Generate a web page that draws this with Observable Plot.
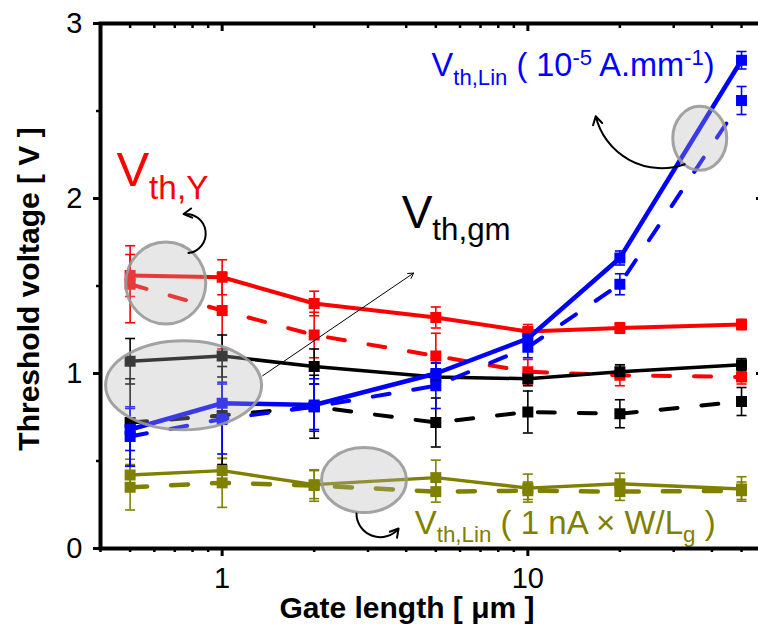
<!DOCTYPE html>
<html><head><meta charset="utf-8">
<script src="https://cdn.jsdelivr.net/npm/d3@7"></script>
<script src="https://cdn.jsdelivr.net/npm/@observablehq/plot@0.6"></script>
<style>html,body{margin:0;padding:0;overflow:hidden;background:#fff}#chart svg{max-width:none!important;}</style>
</head><body><div id="chart"></div>
<script>
// ---- data ----
const gateLength = [0.5, 1, 2, 5, 10, 20, 50];

const vthY_solid      = [1.56, 1.55, 1.40, 1.32, 1.24, 1.26, 1.28];
const vthY_solid_err  = [0.12, 0.10, 0.07, 0.06, 0.04, 0.03, 0.03];
const vthY_dash       = [1.51, 1.36, 1.22, 1.10, 1.01, 0.99, 0.98];
const vthY_dash_err   = [0.22, 0.22, 0.13, 0.13, 0.07, 0.06, 0.04];

const vthGm_solid     = [1.07, 1.10, 1.04, 0.98, 0.97, 1.01, 1.05];
const vthGm_solid_err = [0.13, 0.12, 0.10, 0.04, 0.04, 0.04, 0.035];
const vthGm_dash      = [0.72, 0.76, 0.81, 0.72, 0.78, 0.77, 0.84];
const vthGm_dash_err  = [0.25, 0.28, 0.18, 0.14, 0.12, 0.08, 0.08];

const vthLinA_solid     = [0.68, 0.83, 0.82, 1.00, 1.20, 1.66, 2.79];
const vthLinA_solid_err = [0.12, 0.12, 0.15, 0.06, 0.06, 0.04, 0.05];
const vthLinA_dash      = [0.64, 0.74, 0.81, 0.93, 1.15, 1.51, 2.56];
const vthLinA_dash_err  = [0.17, 0.20, 0.13, 0.13, 0.06, 0.06, 0.08];

const vthLinW_solid     = [0.42, 0.445, 0.365, 0.405, 0.345, 0.37, 0.34];
const vthLinW_solid_err = [0.09, 0.07, 0.08, 0.10, 0.08, 0.06, 0.07];
const vthLinW_dash      = [0.35, 0.375, 0.36, 0.325, 0.33, 0.325, 0.33];
const vthLinW_dash_err  = [0.13, 0.14, 0.09, 0.06, 0.05, 0.05, 0.05];

const xMajorTicks = [1, 10];
const xMinorTicks = [0.4, 0.5, 0.6, 0.7, 0.8, 0.9, 2, 3, 4, 5, 6, 7, 8, 9, 20, 30, 40, 50];
const yMajorTicks = [0, 1, 2, 3];
const yMinorTicks = [0.5, 1.5, 2.5];

const xTitle = "Gate length [ μm ]";
const yTitle = "Threshold voltage [ V ]";

// ---- styling / series table ----
const RED = "#ff0000", BLACK = "#000000", BLUE = "#0000ff", OLIVE = "#808000";
const DASH = "17,24";
const series = [
  {name: "LinW solid", v: vthLinW_solid, e: vthLinW_solid_err, color: OLIVE, width: 3.5, dash: null},
  {name: "LinW dash",  v: vthLinW_dash,  e: vthLinW_dash_err,  color: OLIVE, width: 4.5, dash: DASH},
  {name: "Y dash",     v: vthY_dash,     e: vthY_dash_err,     color: RED,   width: 4,   dash: DASH},
  {name: "Y solid",    v: vthY_solid,    e: vthY_solid_err,    color: RED,   width: 4,   dash: null},
  {name: "Gm dash",    v: vthGm_dash,    e: vthGm_dash_err,    color: BLACK, width: 4,   dash: DASH},
  {name: "Gm solid",   v: vthGm_solid,   e: vthGm_solid_err,   color: BLACK, width: 3.5, dash: null},
  {name: "LinA dash",  v: vthLinA_dash,  e: vthLinA_dash_err,  color: BLUE,  width: 4,   dash: DASH},
  {name: "LinA solid", v: vthLinA_solid, e: vthLinA_solid_err, color: BLUE,  width: 4.5, dash: null}
];
const rowsOf = s => gateLength.map((L, i) => ({L, v: s.v[i], e: s.e[i]}));

// highlight ellipses (centres in data units, radii in px)
const ellipseX = [0.654, 0.748, 2.91, 36.5];
const ellipseY = [1.517, 0.933, 0.391, 2.344];
const ellipseR = [[40, 41], [78, 44.5], [42.5, 32.5], [27, 32]];

// annotation labels
const labels = [
  {text: "V_{th,Y}", x: 0.451, y: 2.070, color: RED, size: 49},
  {text: "V_{th,gm}", x: 3.865, y: 1.831, color: BLACK, size: 46},
  {text: "V_{th,Lin} ( 10^{-5} A.mm^{-1})", x: 4.844, y: 2.698, color: BLUE, size: 32.5},
  {text: "V_{th,Lin} ( 1 nA × W/L_{g} )", x: 4.263, y: 0.0856, color: OLIVE, size: 33}
];
const arrows = [
  {x1: 0.776, y1: 1.688, x2: 0.748, y2: 1.911, bend: -90, w: 2},
  {x1: 1.356, y1: 0.987, x2: 4.23, y2: 1.574, bend: 0, w: 1},
  {x1: 32.6, y1: 2.196, x2: 16.67, y2: 2.470, bend: 48, w: 2},
  {x1: 2.75, y1: 0.200, x2: 3.777, y2: 0.114, bend: -70, w: 2}
];

const capSymbol = {draw(ctx, size) { const w = Math.sqrt(size / Math.PI); ctx.moveTo(-w, 0); ctx.lineTo(w, 0); }};
function ellipseSymbol(rx, ry) {
  const k = 0.5523;
  return {draw(ctx) {
    ctx.moveTo(rx, 0);
    ctx.bezierCurveTo(rx, ry * k, rx * k, ry, 0, ry);
    ctx.bezierCurveTo(-rx * k, ry, -rx, ry * k, -rx, 0);
    ctx.bezierCurveTo(-rx, -ry * k, -rx * k, -ry, 0, -ry);
    ctx.bezierCurveTo(rx * k, -ry, rx, -ry * k, rx, 0);
    ctx.closePath();
  }};
}

const marks = [];
for (const s of series) {
  const rows = rowsOf(s);
  marks.push(Plot.ruleX(rows, {x: "L", y1: d => d.v - d.e, y2: d => d.v + d.e, stroke: s.color, strokeWidth: 1.6}));
  marks.push(Plot.dot(rows, {x: "L", y: d => d.v + d.e, symbol: capSymbol, r: 5, stroke: s.color, strokeWidth: 1.6, fill: "none"}));
  marks.push(Plot.dot(rows, {x: "L", y: d => d.v - d.e, symbol: capSymbol, r: 5, stroke: s.color, strokeWidth: 1.6, fill: "none"}));
}
for (const s of series) {
  const rows = rowsOf(s);
  marks.push(Plot.line(rows, {x: "L", y: "v", stroke: s.color, strokeWidth: s.width, strokeDasharray: s.dash, strokeLinejoin: "round"}));
  marks.push(Plot.dot(rows, {x: "L", y: "v", symbol: "square", r: 6.2, fill: s.color, stroke: "none"}));
}
ellipseX.forEach((x, i) => {
  marks.push(Plot.dot([0], {x: () => x, y: () => ellipseY[i], r: 1, symbol: ellipseSymbol(...ellipseR[i]),
    fill: "#b4b4b4", fillOpacity: 0.32, stroke: "#999999", strokeOpacity: 0.9, strokeWidth: 3}));
});
arrows.forEach(a => {
  marks.push(Plot.arrow([a], {x1: "x1", y1: "y1", x2: "x2", y2: "y2", bend: a.bend, stroke: BLACK, strokeWidth: a.w, headLength: a.w > 1 ? 7 : 9}));
});
labels.forEach(l => {
  marks.push(Plot.text([l], {x: "x", y: "y", text: "text", fill: l.color, fontSize: l.size, textAnchor: "start", lineAnchor: "bottom"}));
});

// axes
marks.push(
  Plot.axisX({anchor: "bottom", ticks: xMajorTicks, tickSize: 8, tickPadding: 11, fontSize: 29, tickFormat: d => String(d), strokeWidth: 3, label: null, color: "#000"}),
  Plot.axisX({anchor: "bottom", ticks: xMinorTicks, tickSize: 4, tickFormat: () => "", strokeWidth: 2.5, label: null}),
  Plot.axisX({anchor: "top", ticks: xMajorTicks, tickSize: 7, dy: 7, tickFormat: () => "", strokeWidth: 3, label: null}),
  Plot.axisX({anchor: "top", ticks: xMinorTicks, tickSize: 4, dy: 4, tickFormat: () => "", strokeWidth: 2.5, label: null}),
  Plot.axisY({anchor: "left", ticks: yMajorTicks, tickSize: 7, tickPadding: 11, fontSize: 29, tickFormat: d => String(d), strokeWidth: 3, label: null, color: "#000"}),
  Plot.axisY({anchor: "left", ticks: yMinorTicks, tickSize: 4, tickFormat: () => "", strokeWidth: 2.5, label: null}),
  Plot.axisY({anchor: "right", ticks: yMajorTicks, tickSize: 8, dx: -8, tickFormat: () => "", strokeWidth: 3, label: null}),
  Plot.axisY({anchor: "right", ticks: yMinorTicks, tickSize: 4, dx: -4, tickFormat: () => "", strokeWidth: 2.5, label: null}),
  Plot.frame({stroke: "#000", strokeWidth: 4}),
  Plot.text([xTitle], {frameAnchor: "bottom", text: d => d, textAnchor: "middle", lineAnchor: "middle", dy: 60, dx: -25, fontSize: 30, fontWeight: "bold", fill: "#000"}),
  Plot.text([yTitle], {frameAnchor: "left", text: d => d, textAnchor: "middle", lineAnchor: "middle", rotate: -90, dx: -71, dy: 3, fontSize: 30, fontWeight: "bold", fill: "#000"})
);

const chart = Plot.plot({
  width: 773, height: 628,
  marginLeft: 100, marginRight: 10, marginTop: 23, marginBottom: 80,
  x: {type: "log", domain: [0.4, 59]},
  y: {domain: [0, 3]},
  style: {fontFamily: "'Liberation Sans', Arial, Helvetica, sans-serif", background: "#fff", color: "#000", maxWidth: "none"},
  marks
});
chart.style.maxWidth = "none";
document.getElementById("chart").appendChild(chart);

// rich text: _{sub} and ^{sup}
const NS = "http://www.w3.org/2000/svg";
chart.querySelectorAll("text").forEach(t => {
  const s = t.textContent;
  if (!/[_^]\{/.test(s)) return;
  const fs = parseFloat(getComputedStyle(t).fontSize);
  t.textContent = "";
  const re = /([_^])\{([^}]*)\}|([^_^]+)/g;
  let shift = 0, m;
  while ((m = re.exec(s))) {
    const ts = document.createElementNS(NS, "tspan");
    let target;
    if (m[3] !== undefined) { target = 0; ts.textContent = m[3]; }
    else {
      target = m[1] === "_" ? 0.27 * fs : -0.36 * fs;
      ts.textContent = m[2];
      ts.setAttribute("font-size", (0.68 * fs).toFixed(1));
    }
    ts.setAttribute("dy", (target - shift).toFixed(1));
    shift = target;
    t.appendChild(ts);
  }
});
</script></body></html>
